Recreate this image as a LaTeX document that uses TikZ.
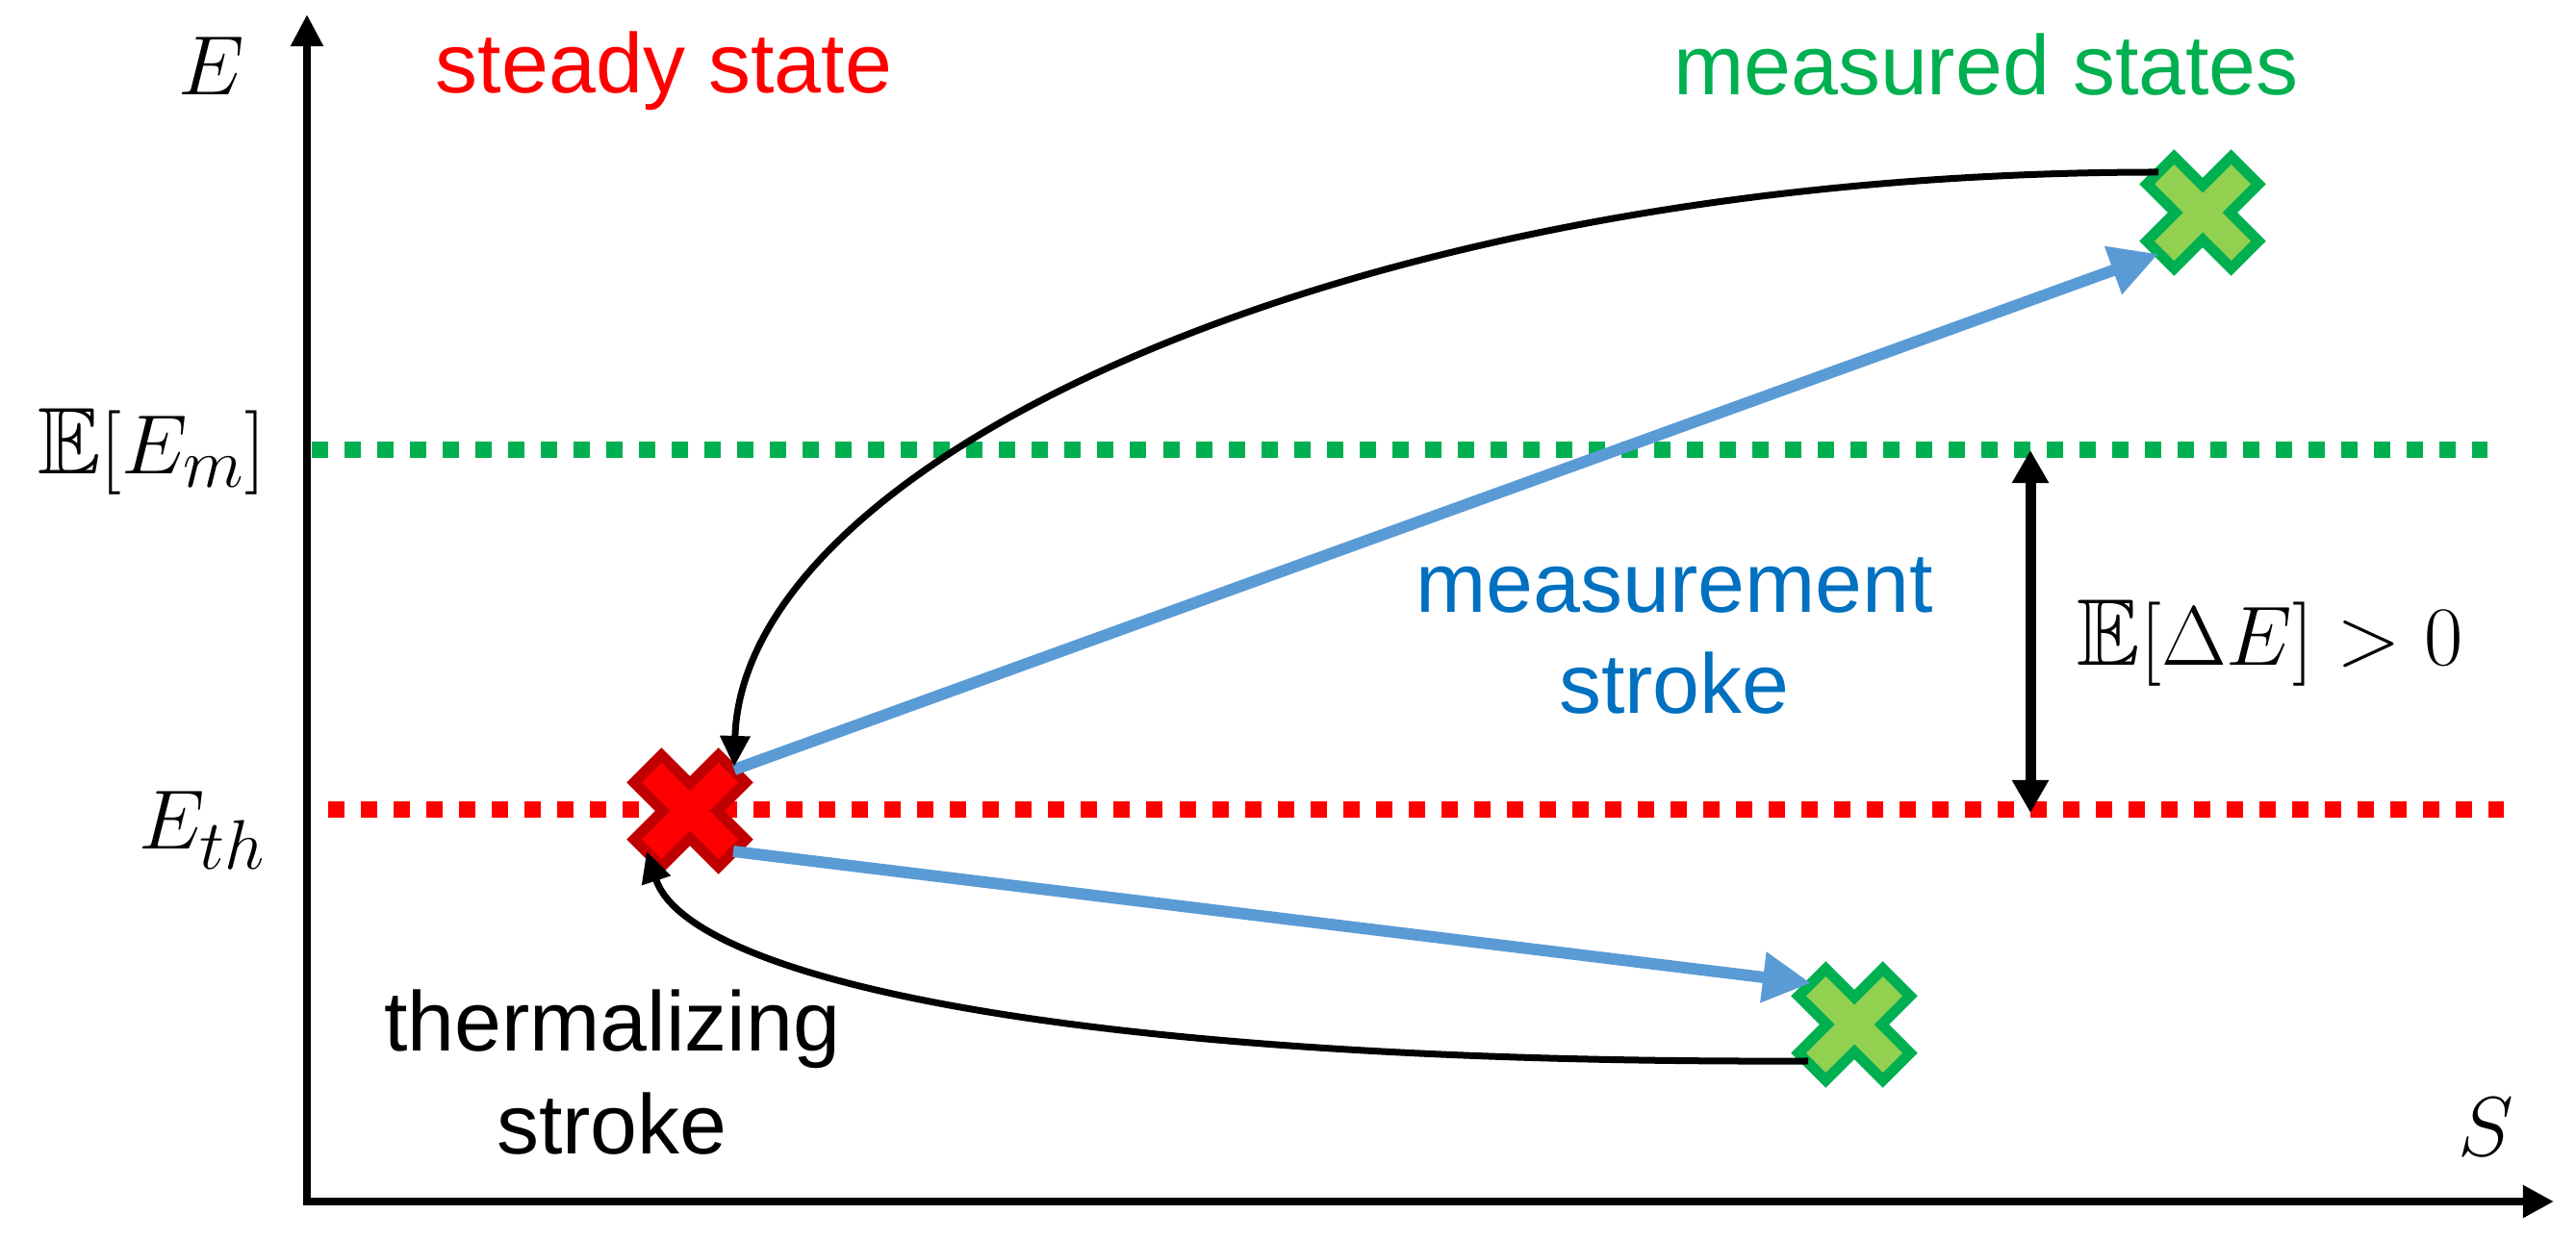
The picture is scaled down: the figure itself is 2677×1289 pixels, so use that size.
\documentclass[tikz,border=0pt]{standalone}
\usepackage[no-math]{fontspec}
\usepackage{amssymb}
\newfontfamily\arial{Liberation Sans}
\usetikzlibrary{arrows.meta,calc}
\definecolor{cred}{HTML}{FF0000}
\definecolor{cdarkred}{HTML}{C00000}
\definecolor{cgreen}{HTML}{00B050}
\definecolor{clightgreen}{HTML}{92D050}
\definecolor{cblue}{HTML}{5B9BD5}
\definecolor{ctblue}{HTML}{0070C0}
\newcommand\drawxmark[3]{%
  \draw[xmk, draw=#2, fill=#3, shift={(#1)}, rotate=45]
    (20,20) -- (62,20) -- (62,-20) -- (20,-20) -- (20,-62) -- (-20,-62) -- (-20,-20)
    -- (-62,-20) -- (-62,20) -- (-20,20) -- (-20,62) -- (20,62) -- cycle;}
\begin{document}
\begin{tikzpicture}[x=0.01cm,y=-0.01cm,
  lbl/.style={font=\arial\fontsize{25}{30}\selectfont, inner sep=0pt},
  mlbl/.style={font=\fontsize{28}{34}\selectfont, inner sep=0pt},
  axisline/.style={line width=0.08cm, line join=miter,
     {Triangle[length=0.33cm,width=0.32cm]}-{Triangle[length=0.32cm,width=0.32cm]}},
  levelline/.style={line width=0.17cm, dash pattern=on 0.17cm off 0.17cm},
  xmk/.style={line width=0.11cm, line join=miter},
  bluearrow/.style={line width=0.12cm, draw=cblue, -{Triangle[length=0.5cm,width=0.5cm]}},
  blackarrow/.style={line width=0.07cm, -{Triangle[length=0.32cm,width=0.3cm]}},
  gaparrow/.style={line width=0.11cm,
     {Triangle[length=0.34cm,width=0.36cm]}-{Triangle[length=0.34cm,width=0.36cm]}}
]
\useasboundingbox (0,0) rectangle (2677,1289);

% axes
\coordinate (origin) at (319,1249);
\coordinate (ytip) at (319,15);
\coordinate (xtip) at (2654,1249);
\draw[axisline] (ytip) -- (origin) -- (xtip);

% level lines
\coordinate (gl1) at (324,468);
\coordinate (gl2) at (2585,468);
\coordinate (rl1) at (341,842);
\coordinate (rl2) at (2602,842);
\draw[levelline, draw=cgreen] (gl1) -- (gl2);
\draw[levelline, draw=cred] (rl1) -- (rl2);

% states
\coordinate (rs) at (717,843);
\coordinate (gt) at (2289,221);
\coordinate (gb) at (1927,1065);
\drawxmark{rs}{cdarkred}{cred}
\drawxmark{gt}{cgreen}{clightgreen}
\drawxmark{gb}{cgreen}{clightgreen}

% connector ends
\coordinate (rsNE) at ($(rs)+(46,-43)$);
\coordinate (rsN) at ($(rs)+(46,-46)$);
\coordinate (rsE) at ($(rs)+(45,42)$);
\coordinate (rsSW) at ($(rs)+(-45,42)$);
\coordinate (gtSW) at ($(gt)+(-46,43)$);
\coordinate (gtW) at ($(gt)+(-46,-42)$);
\coordinate (gbW) at ($(gb)+(-45,-43)$);
\coordinate (gbSW) at ($(gb)+(-48,38)$);

% measurement strokes
\draw[bluearrow] (rsNE) -- (gtSW);
\draw[bluearrow] (rsE) -- (gbW);

% thermalizing strokes
\draw[blackarrow] (gtW) .. controls (1400,179) and (772,480) .. (rsN);
\draw[blackarrow] (gbSW) .. controls (1100,1106) and (715,1015) .. (rsSW);

% energy gap
\coordinate (dtop) at (2110,468);
\coordinate (dbot) at (2110,845);
\draw[gaparrow] (dtop) -- (dbot);

% labels
\node[lbl, text=cred, anchor=base] (tsteady) at (690,97) {steady state};
\node[lbl, text=cgreen, anchor=base] (tmeas) at (2064,99) {measured states};
\node[lbl, text=ctblue, anchor=base] (tms1) at (1740,637) {measurement};
\node[lbl, text=ctblue, anchor=base] (tms2) at (1740,742) {stroke};
\node[lbl, anchor=base] (tth1) at (636,1093) {thermalizing};
\node[lbl, anchor=base] (tth2) at (636,1200) {stroke};
\node[mlbl, anchor=base] (lE) at (220,99) {$E$};
\node[mlbl, anchor=base] (lS) at (2583,1202) {$S$};
\node[mlbl, anchor=base east] (lEm) at (277,493) {$\mathbb{E}[E_m]$};
\node[mlbl, anchor=base east] (lEth) at (277,883) {$E_{th}$};
\node[mlbl, anchor=base west] (lDE) at (2158,692) {$\mathbb{E}[\Delta E] > 0$};
\end{tikzpicture}
\end{document}
